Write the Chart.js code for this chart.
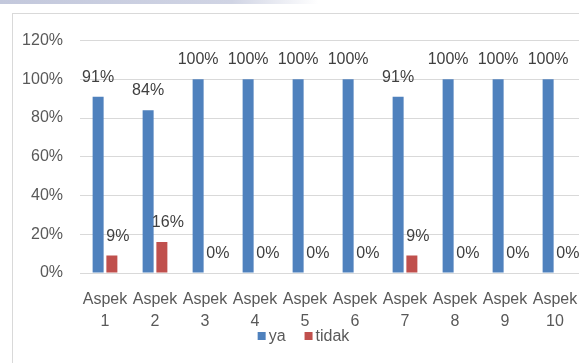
<!DOCTYPE html>
<html>
<head>
<meta charset="utf-8">
<script src="https://cdn.jsdelivr.net/npm/chart.js@4.4.1/dist/chart.umd.min.js"></script>
<style>
    html, body { margin: 0; padding: 0; background: #fff; overflow: hidden; width: 579px; height: 363px; }
    #topband { position: absolute; left: 0; top: 0; width: 579px; height: 4px;
        background: linear-gradient(to right, #c3c8dc 0%, #d0d4e4 40%, #ffffff 55%); }
    #frame { position: absolute; left: 12px; top: 13px; width: 640px; height: 400px;
        border-left: 1px solid #d9d9d9; border-top: 1px solid #d9d9d9; }
    #wrap { position: absolute; left: 13px; top: 14px; width: 581px; height: 349px; }
</style>
</head>
<body>
<div id="topband"></div>
<div id="frame"></div>
<div id="wrap"><canvas id="chart" width="581" height="349"></canvas></div>
<script>
    // data
    var categories = [['Aspek', '1'], ['Aspek', '2'], ['Aspek', '3'], ['Aspek', '4'], ['Aspek', '5'],
                      ['Aspek', '6'], ['Aspek', '7'], ['Aspek', '8'], ['Aspek', '9'], ['Aspek', '10']];
    var yaValues = [91, 84, 100, 100, 100, 100, 91, 100, 100, 100];
    var tidakValues = [9, 16, 0, 0, 0, 0, 9, 0, 0, 0];
    var seriesNames = ['ya', 'tidak'];
    var yTicks = [0, 20, 40, 60, 80, 100, 120];

    var FONT = '"Liberation Sans", Arial, sans-serif';
    var labelShift = [0, 6];

    // value labels above the bars
    var valueLabels = {
        id: 'valueLabels',
        afterDatasetsDraw: function(chart) {
            var ctx = chart.ctx;
            ctx.save();
            ctx.font = '16px ' + FONT;
            ctx.fillStyle = '#404040';
            ctx.textAlign = 'center';
            ctx.textBaseline = 'alphabetic';
            chart.data.datasets.forEach(function(ds, i) {
                var meta = chart.getDatasetMeta(i);
                meta.data.forEach(function(bar, j) {
                    ctx.fillText(ds.data[j] + '%', bar.x + labelShift[i], bar.y - 15);
                });
            });
            ctx.restore();
        }
    };

    // small legend under the axis
    var bottomLegend = {
        id: 'bottomLegend',
        afterDraw: function(chart) {
            var ctx = chart.ctx;
            var box = 8, gap = 3, spacing = 19;
            ctx.save();
            ctx.font = '16px ' + FONT;
            var items = chart.data.datasets.map(function(ds) {
                return { text: ds.label, color: ds.backgroundColor, w: ctx.measureText(ds.label).width };
            });
            var total = 0;
            items.forEach(function(it, i) {
                total += box + gap + it.w + (i < items.length - 1 ? spacing : 0);
            });
            var x = chart.width / 2 - total / 2;
            var y = chart.chartArea.bottom + 63;
            ctx.textBaseline = 'middle';
            ctx.textAlign = 'left';
            items.forEach(function(it) {
                ctx.fillStyle = it.color;
                ctx.fillRect(x, y - box / 2, box, box);
                ctx.fillStyle = '#595959';
                ctx.fillText(it.text, x + box + gap, y + 1);
                x += box + gap + it.w + spacing;
            });
            ctx.restore();
        }
    };

    var ctx = document.getElementById('chart').getContext('2d');
    new Chart(ctx, {
        type: 'bar',
        data: {
            labels: categories,
            datasets: [{
                label: seriesNames[0],
                data: yaValues,
                backgroundColor: '#4F81BD',
                categoryPercentage: 0.55,
                barPercentage: 0.8
            }, {
                label: seriesNames[1],
                data: tidakValues,
                backgroundColor: '#C0504D',
                categoryPercentage: 0.55,
                barPercentage: 0.8
            }]
        },
        options: {
            responsive: false,
            animation: false,
            layout: { padding: { left: 0, top: 23, right: 14, bottom: 0 } },
            plugins: {
                legend: { display: false },
                tooltip: { enabled: false }
            },
            scales: {
                x: {
                    grid: { display: false, drawTicks: false },
                    border: { display: true, color: '#d9d9d9' },
                    ticks: {
                        autoSkip: false,
                        maxRotation: 0,
                        minRotation: 0,
                        padding: 15,
                        color: '#595959',
                        font: { family: FONT, size: 16, lineHeight: 1.4 }
                    },
                    afterFit: function(scale) { scale.height = 90; }
                },
                y: {
                    min: 0,
                    max: 120,
                    afterBuildTicks: function(scale) {
                        scale.ticks = yTicks.map(function(v) { return { value: v }; });
                    },
                    grid: { color: '#d9d9d9', drawTicks: false },
                    border: { display: false },
                    ticks: {
                        padding: 17,
                        color: '#595959',
                        font: { family: FONT, size: 16 },
                        callback: function(v) { return v + '%'; }
                    },
                    afterFit: function(scale) { scale.width = 67; }
                }
            }
        },
        plugins: [valueLabels, bottomLegend]
    });
</script>
</body>
</html>
